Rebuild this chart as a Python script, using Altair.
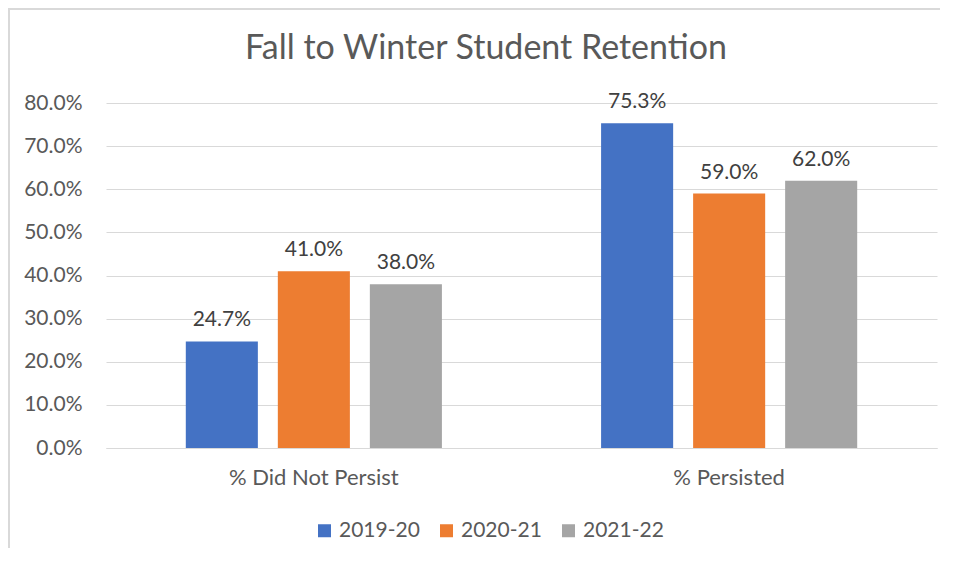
import altair as alt
import pandas as pd

categories = ["% Did Not Persist", "% Persisted"]
years = ["2019-20", "2020-21", "2021-22"]
did_not_persist = [0.247, 0.410, 0.380]
persisted = [0.753, 0.590, 0.620]
colors = ["#4472C4", "#ED7D31", "#A5A5A5"]
y_ticks = [0.0, 0.1, 0.2, 0.3, 0.4, 0.5, 0.6, 0.7, 0.8]
title_text = "Fall to Winter Student Retention"

rows = []
for yr, a, b in zip(years, did_not_persist, persisted):
    rows.append({"category": categories[0], "year": yr, "value": a})
    rows.append({"category": categories[1], "year": yr, "value": b})
df = pd.DataFrame(rows)

FONT = "Lato"
TXT = "#595959"
GRID = "#D9D9D9"

x_enc = alt.X(
    "category:N",
    sort=categories,
    scale=alt.Scale(paddingInner=0.335, paddingOuter=0.168),
    axis=alt.Axis(
        title=None, labelAngle=0, ticks=False, domainColor=GRID, domainWidth=1,
        labelPadding=19, labelFontSize=22, labelColor=TXT, labelFont=FONT,
    ),
)
xoff_enc = alt.XOffset(
    "year:N", sort=years,
    scale=alt.Scale(paddingInner=0.217, paddingOuter=0.109),
)
y_enc = alt.Y(
    "value:Q",
    scale=alt.Scale(domain=[0, 0.8], nice=False),
    axis=alt.Axis(
        title=None, values=y_ticks, format=".1%", ticks=False, domain=False,
        gridColor=GRID, gridWidth=1, labelPadding=24, labelFontSize=21,
        labelColor=TXT, labelFont=FONT,
    ),
)

base = alt.Chart(df)

bars = base.mark_bar().encode(
    x=x_enc,
    xOffset=xoff_enc,
    y=y_enc,
    color=alt.Color(
        "year:N",
        sort=years,
        scale=alt.Scale(domain=years, range=colors),
        legend=alt.Legend(
            title=None, orient="none", legendX=208, legendY=417,
            direction="horizontal", symbolType="square", symbolSize=169,
            symbolStrokeWidth=0, labelFontSize=21, labelColor=TXT,
            labelFont=FONT, columnPadding=16, labelOffset=4,
        ),
    ),
)

labels = base.mark_text(
    baseline="bottom", dy=-11, fontSize=21, color="#404040", font=FONT
).encode(
    x=alt.X("category:N", sort=categories),
    xOffset=alt.XOffset("year:N", sort=years),
    y="value:Q",
    text=alt.Text("value:Q", format=".1%"),
)

one = alt.Data(values=[{"t": title_text}])
title = alt.Chart(one).mark_text(
    fontSize=34, color=TXT, font=FONT, align="center", baseline="middle"
).encode(x=alt.value(380), y=alt.value(-54), text="t:N")

border_left = alt.Chart(one).mark_rule(color=GRID, strokeWidth=2).encode(
    x=alt.value(-97), x2=alt.value(-97), y=alt.value(-95), y2=alt.value(445)
)
border_top = alt.Chart(one).mark_rule(color=GRID, strokeWidth=2).encode(
    x=alt.value(-98), x2=alt.value(834), y=alt.value(-94), y2=alt.value(-94)
)

chart = alt.layer(border_left, border_top, bars, labels, title).properties(
    width=831,
    height=345,
    padding={"left": 98, "top": 95, "right": 3, "bottom": 100},
    autosize=alt.AutoSizeParams(type="none"),
).configure_view(stroke=None)

chart.save("out.html", embed_options={"renderer": "svg", "actions": False})
